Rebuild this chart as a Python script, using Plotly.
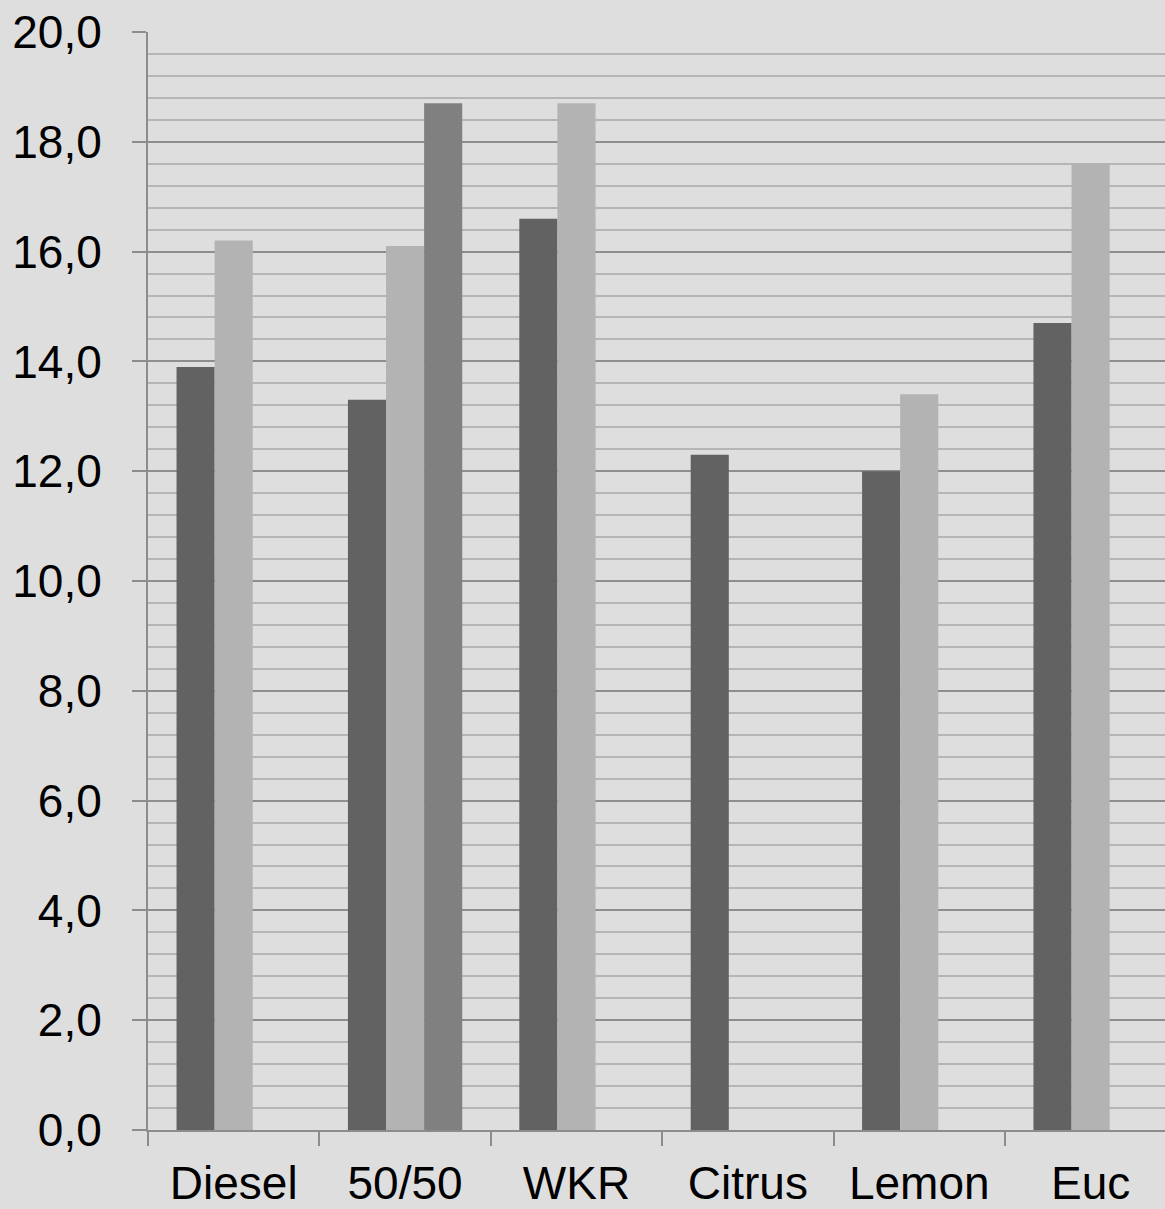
import plotly.graph_objects as go

# Fuel blends and the three measured series
categories = ["Diesel", "50/50", "WKR", "Citrus", "Lemon", "Euc"]
series_1 = [13.9, 13.3, 16.6, 12.3, 12.0, 14.7]
series_2 = [16.2, 16.1, 18.7, None, 13.4, 17.6]
series_3 = [None, 18.7, None, None, None, None]

y_ticks = [0, 2, 4, 6, 8, 10, 12, 14, 16, 18, 20]

colors = ["#626262", "#b3b3b3", "#808080"]
font_family = "Liberation Sans, Arial, sans-serif"

fig = go.Figure()
for name, vals, col in zip(["Series 1", "Series 2", "Series 3"],
                           [series_1, series_2, series_3], colors):
    fig.add_trace(go.Bar(x=categories, y=vals, name=name,
                         marker=dict(color=col, line=dict(width=0))))

fig.update_layout(
    width=1165, height=1209,
    margin=dict(l=148, r=0, t=32, b=77),
    paper_bgcolor="#dedede", plot_bgcolor="#dedede",
    barmode="group", bargap=0.333, bargroupgap=0,
    showlegend=False,
    separators=", ",
    font=dict(family=font_family, size=46, color="#000000"),
)

fig.update_xaxes(
    type="category", range=[-0.5, 5.434],
    showgrid=False, showline=True, linecolor="#8c8c8c", linewidth=2,
    ticks="outside", ticklen=14, tickwidth=2, tickcolor="#8c8c8c",
    tickson="boundaries", ticklabelstandoff=12,
    tickfont=dict(size=46), zeroline=False,
)

fig.update_yaxes(
    range=[0, 20], tickvals=y_ticks, tickformat=".1f",
    showgrid=True, gridcolor="#8e8e8e", gridwidth=2,
    showline=True, linecolor="#8c8c8c", linewidth=2,
    ticks="outside", ticklen=14, tickwidth=2, tickcolor="#8c8c8c",
    ticklabelstandoff=21,
    minor=dict(dtick=0.4, tick0=0, showgrid=True, gridcolor="#b5b5b5",
               gridwidth=2, ticks=""),
    zeroline=False, tickfont=dict(size=46),
)

fig.write_html("out.html")
